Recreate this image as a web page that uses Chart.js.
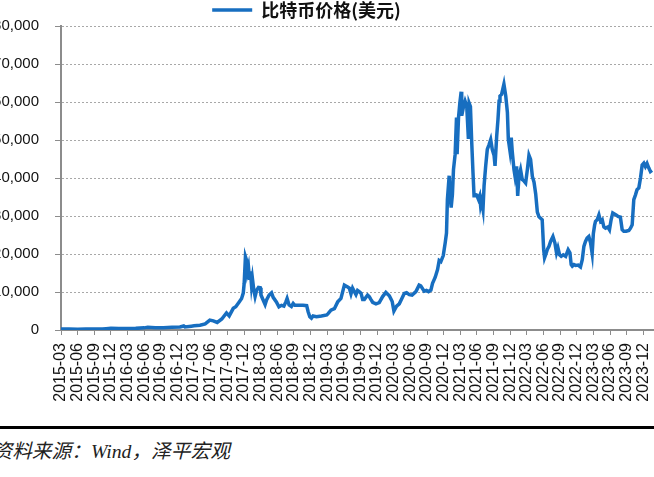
<!DOCTYPE html>
<html>
<head>
<meta charset="utf-8">
<script src="https://cdn.jsdelivr.net/npm/chart.js@4.4.1/dist/chart.umd.min.js"></script>
<style>
  html, body { margin: 0; padding: 0; background: #fff; width: 654px; height: 477px; overflow: hidden; position: relative; }
  #wrap { position: absolute; left: -58px; top: -9px; width: 729px; height: 430px; }
  #rule { position: absolute; left: 0; top: 426px; width: 654px; height: 3px; background: #000; }
  #source { position: absolute; left: -7.5px; top: 435px; font: italic 19.7px "Liberation Serif", "Noto Sans CJK SC", serif; color: #222; white-space: nowrap; }
</style>
</head>
<body>
<div id="wrap"><canvas id="c"></canvas></div>
<div id="rule"></div>
<div id="source">资料来源：Wind，泽平宏观</div>
<script>
// ---- data ----
const seriesName = '比特币价格(美元)';

const quarterLabels = [
  '2015-03','2015-06','2015-09','2015-12','2016-03','2016-06','2016-09','2016-12',
  '2017-03','2017-06','2017-09','2017-12','2018-03','2018-06','2018-09','2018-12',
  '2019-03','2019-06','2019-09','2019-12','2020-03','2020-06','2020-09','2020-12',
  '2021-03','2021-06','2021-09','2021-12','2022-03','2022-06','2022-09','2022-12',
  '2023-03','2023-06','2023-09','2023-12'
];

const yTicks = [0, 10000, 20000, 30000, 40000, 50000, 60000, 70000, 80000];

const dates = [
  '2015-03-01','2015-04-15','2015-06-01','2015-07-15','2015-09-01','2015-10-15','2015-11-05','2015-12-01','2016-01-15',
  '2016-03-01','2016-04-15','2016-06-01','2016-06-20','2016-08-01','2016-09-15','2016-11-01','2016-12-15','2017-01-05',
  '2017-01-12','2017-02-15','2017-03-01','2017-04-03','2017-05-01','2017-05-27','2017-06-15','2017-07-06','2017-08-01',
  '2017-08-27','2017-09-11','2017-10-03','2017-10-17','2017-11-05','2017-11-18','2017-11-27','2017-12-02','2017-12-09',
  '2017-12-15','2017-12-20','2017-12-26','2018-01-01','2018-01-06','2018-01-12','2018-01-17','2018-01-25','2018-02-01',
  '2018-02-09','2018-02-18','2018-02-27','2018-03-03','2018-03-15','2018-03-26','2018-04-03','2018-04-17','2018-04-30',
  '2018-05-09','2018-05-27','2018-06-10','2018-06-24','2018-07-07','2018-07-18','2018-07-25','2018-08-05','2018-08-18',
  '2018-08-28','2018-09-06','2018-09-24','2018-10-21','2018-11-10','2018-11-18','2018-11-27','2018-12-06','2018-12-15',
  '2019-01-03','2019-01-31','2019-02-27','2019-03-06','2019-03-22','2019-04-10','2019-04-28','2019-05-16','2019-06-04',
  '2019-06-22','2019-07-01','2019-07-10','2019-07-19','2019-07-29','2019-08-07','2019-08-16','2019-08-25','2019-09-04',
  '2019-09-13','2019-09-22','2019-10-10','2019-10-19','2019-10-29','2019-11-07','2019-11-25','2019-12-13','2020-01-01',
  '2020-01-19','2020-02-07','2020-02-22','2020-03-02','2020-03-10','2020-03-17','2020-04-01','2020-04-15','2020-04-28',
  '2020-05-11','2020-05-26','2020-06-10','2020-07-01','2020-07-19','2020-07-28','2020-08-16','2020-08-29','2020-09-09',
  '2020-09-22','2020-10-01','2020-10-16','2020-10-29','2020-11-07','2020-11-16','2020-11-29','2020-12-10','2020-12-17',
  '2020-12-22','2021-01-01','2021-01-06','2021-01-12','2021-01-19','2021-01-25','2021-02-03','2021-02-10','2021-02-13',
  '2021-02-20','2021-02-27','2021-03-06','2021-03-09','2021-03-18','2021-03-28','2021-04-06','2021-04-15','2021-04-19',
  '2021-04-26','2021-05-03','2021-05-10','2021-05-16','2021-05-21','2021-05-31','2021-06-09','2021-06-16','2021-06-21',
  '2021-06-27','2021-07-04','2021-07-10','2021-07-19','2021-07-28','2021-08-07','2021-08-16','2021-08-25','2021-09-04',
  '2021-09-09','2021-09-18','2021-09-25','2021-10-01','2021-10-06','2021-10-15','2021-10-28','2021-11-07','2021-11-16',
  '2021-11-21','2021-11-30','2021-12-07','2021-12-13','2021-12-22','2021-12-28','2022-01-06','2022-01-12','2022-01-19',
  '2022-01-28','2022-02-06','2022-02-15','2022-02-23','2022-03-04','2022-03-13','2022-03-22','2022-04-01','2022-04-10',
  '2022-04-19','2022-04-28','2022-05-07','2022-05-16','2022-05-25','2022-06-02','2022-06-07','2022-06-13','2022-06-22',
  '2022-07-01','2022-07-10','2022-07-23','2022-08-03','2022-08-12','2022-08-20','2022-08-29','2022-09-07','2022-09-18',
  '2022-10-01','2022-10-15','2022-10-25','2022-11-01','2022-11-07','2022-11-16','2022-11-25','2022-12-09','2022-12-22',
  '2023-01-01','2023-01-10','2023-01-19','2023-01-28','2023-02-06','2023-02-15','2023-02-23','2023-03-01','2023-03-08',
  '2023-03-13','2023-03-22','2023-04-01','2023-04-10','2023-04-19','2023-04-28','2023-05-07','2023-05-20','2023-05-29',
  '2023-06-07','2023-06-16','2023-06-23','2023-07-04','2023-07-15','2023-07-28','2023-08-07','2023-08-16','2023-08-29',
  '2023-09-13','2023-09-22','2023-10-01','2023-10-10','2023-10-19','2023-10-28','2023-11-07','2023-11-16','2023-11-25',
  '2023-12-04','2023-12-13','2023-12-22','2024-01-01','2024-01-10','2024-01-19','2024-01-24'
];

const prices = [
  270,240,230,260,235,260,360,430,420,
  415,430,560,700,600,610,700,780,1050,
  800,1000,1100,1250,1600,2600,2400,2000,2900,
  4500,3700,5700,6100,7400,8300,9700,12300,19300,
  18400,15300,16600,13200,15400,11800,13600,10500,8800,
  10500,11200,11100,9200,7900,6700,7900,9200,9800,
  8600,7400,6100,6500,6300,7400,8300,6600,6200,
  7000,6500,6500,6500,6400,4800,3500,3100,
  3700,3500,3700,3950,4300,5200,5600,7400,8300,
  11800,11300,11000,9500,11000,10100,9300,10400,10100,
  9700,8000,8000,9200,8800,8000,7300,6900,7200,
  8800,9900,9000,7500,5000,5700,6300,6900,8300,
  9600,9800,9300,9200,10100,11800,11600,10200,10400,
  10100,10500,12300,13900,15900,18300,18000,19600,23000,
  25500,34300,40600,35300,32200,35600,42200,46200,55900,
  46300,55800,59800,62700,56400,58500,60200,58900,50300,
  59700,58800,49400,41500,35300,35700,35500,34400,35300,
  32700,33900,31800,37900,43100,47500,48800,50100,47500,
  45900,43200,51000,55400,60200,61600,62000,64700,61600,
  57200,50200,47100,50600,46700,42300,40500,43100,35300,
  40500,42200,39600,39200,38700,42200,46000,44900,40400,
  38900,35800,31000,29800,29400,29000,21200,19000,19800,
  21200,22000,23300,24600,22900,20300,21600,19800,19400,
  19800,19400,21100,20300,17200,16800,17200,17000,17100,
  16600,18500,22000,23300,24200,24600,22900,20100,25400,
  27600,28600,29000,30300,28600,29000,27100,26800,27100,
  26400,29000,30800,30600,30300,29900,29700,26400,26000,
  26000,26200,26800,27700,34300,35500,36900,37400,40000,
  43400,43900,43000,43800,42600,41700,42000
];

// ---- helpers ----
function monthIndex(s) {
  const parts = s.split('-').map(Number);
  const y = parts[0], m = parts[1], d = parts[2] || 1;
  const dim = new Date(y, m, 0).getDate();
  return (y - 2015) * 12 + (m - 3) + (d - 1) / dim;
}
const points = dates.map((d, i) => ({ x: monthIndex(d), y: prices[i] }));
const quarterValues = quarterLabels.map(monthIndex);

const axisColor = '#8c8c8c';
const lineColor = '#176ec0';

new Chart(document.getElementById('c'), {
  type: 'line',
  data: {
    datasets: [{
      label: seriesName,
      data: points,
      borderColor: lineColor,
      backgroundColor: lineColor,
      borderWidth: 3.5,
      pointRadius: 0,
      pointHoverRadius: 0,
      tension: 0,
      fill: false
    }]
  },
  options: {
    responsive: true,
    maintainAspectRatio: false,
    animation: false,
    layout: { padding: 0 },
    plugins: {
      tooltip: { enabled: false },
      legend: {
        display: true,
        position: 'top',
        maxHeight: 35,
        labels: {
          usePointStyle: true,
          pointStyle: 'line',
          pointStyleWidth: 40,
          padding: 10,
          color: '#111',
          font: { family: '"Noto Sans CJK SC", sans-serif', size: 18, weight: 'bold' }
        }
      }
    },
    scales: {
      x: {
        type: 'linear',
        min: 0,
        max: 110,
        afterBuildTicks: s => { s.ticks = quarterValues.map(v => ({ value: v })); },
        afterFit: s => { s.height = 91; },
        border: { display: true, color: axisColor, width: 2 },
        grid: {
          drawOnChartArea: false,
          drawTicks: true,
          tickLength: 5,
          tickColor: axisColor,
          tickWidth: 1
        },
        ticks: {
          autoSkip: false,
          minRotation: 90,
          maxRotation: 90,
          padding: 8,
          color: '#111',
          font: { family: '"Liberation Sans", Arial, sans-serif', size: 16 },
          callback: v => {
            const i = quarterValues.findIndex(q => Math.abs(q - v) < 1e-6);
            return i >= 0 ? quarterLabels[i] : '';
          }
        }
      },
      y: {
        min: yTicks[0],
        max: yTicks[yTicks.length - 1],
        afterBuildTicks: s => { s.ticks = yTicks.map(v => ({ value: v })); },
        afterFit: s => { s.width = 119; },
        border: { display: true, color: axisColor, width: 2, dash: [2, 2] },
        grid: {
          color: '#a8a8a8',
          lineWidth: 1,
          drawTicks: true,
          tickLength: 6,
          tickColor: axisColor,
          tickBorderDash: [],
          tickWidth: 1
        },
        ticks: {
          padding: 16,
          color: '#111',
          font: { family: '"Liberation Sans", Arial, sans-serif', size: 15 },
          callback: v => v.toLocaleString('en-US')
        }
      }
    }
  }
});
</script>
</body>
</html>
